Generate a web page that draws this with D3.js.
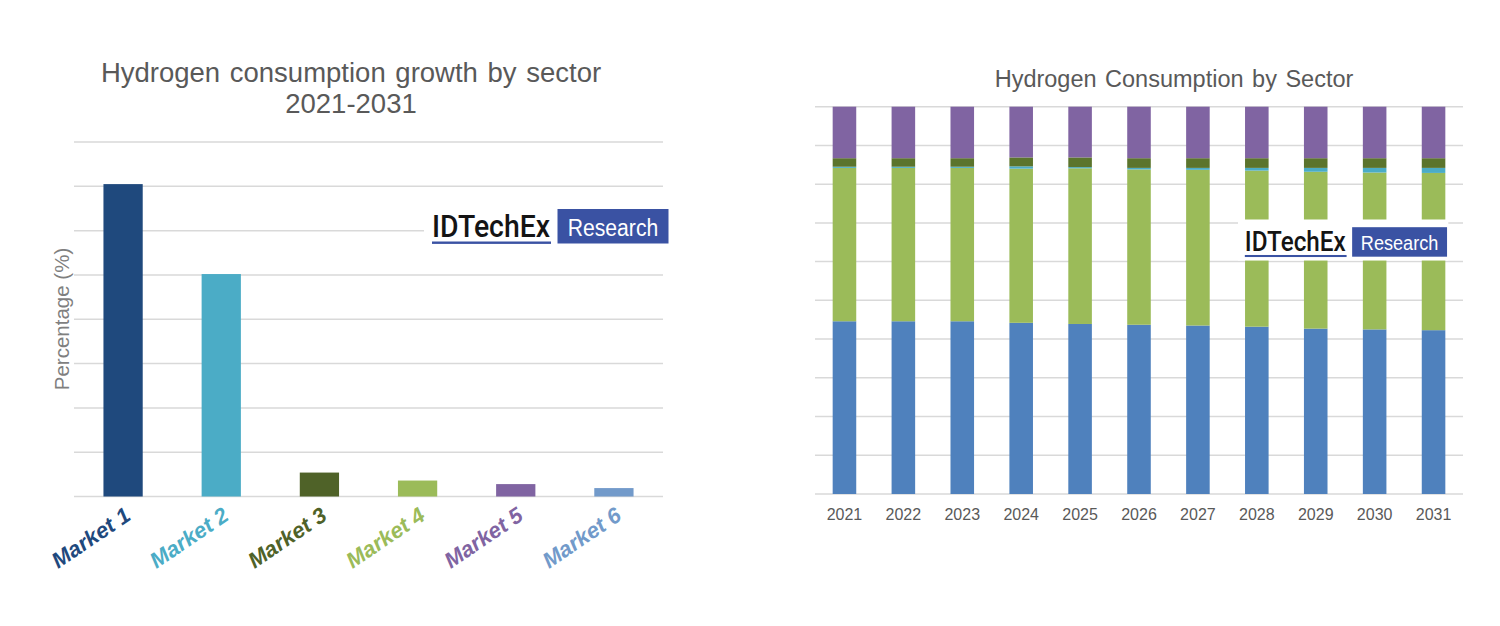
<!DOCTYPE html>
<html>
<head>
<meta charset="utf-8">
<script src="https://cdn.jsdelivr.net/npm/d3@7"></script>
<style>
  html, body { margin: 0; padding: 0; background: #fff; }
  svg { display: block; font-family: "Liberation Sans", Arial, sans-serif; }
</style>
</head>
<body>
<svg id="chart" width="1500" height="626"></svg>
<script>
// ---------- Data ----------
const markets = ["Market 1", "Market 2", "Market 3", "Market 4", "Market 5", "Market 6"];
const growthPct = [70.5, 50.2, 5.4, 3.6, 2.8, 1.9];
const leftTicks = [0, 10, 20, 30, 40, 50, 60, 70, 80];

const years = ["2021", "2022", "2023", "2024", "2025", "2026", "2027", "2028", "2029", "2030", "2031"];
const seriesKeys = ["s1", "s2", "s3", "s4", "s5"];
const s1 = [44.6, 44.6, 44.6, 44.2, 43.9, 43.7, 43.5, 43.2, 42.7, 42.5, 42.3];
const s2 = [39.6, 39.6, 39.6, 39.8, 40.2, 40.1, 40.2, 40.3, 40.5, 40.5, 40.6];
const s3 = [0.3, 0.3, 0.3, 0.6, 0.3, 0.4, 0.5, 0.7, 1.0, 1.2, 1.3];
const s4 = [2.2, 2.2, 2.2, 2.3, 2.5, 2.5, 2.5, 2.5, 2.5, 2.5, 2.5];
const s5 = [13.3, 13.3, 13.3, 13.1, 13.1, 13.3, 13.3, 13.3, 13.3, 13.3, 13.3];
const rightTicks = [0, 10, 20, 30, 40, 50, 60, 70, 80, 90, 100];

// ---------- Styles ----------
const marketColors = ["#1f497d", "#4bacc6", "#4f6228", "#9bbb59", "#8064a2", "#729aca"];
const seriesColors = ["#4f81bd", "#9bbb59", "#4bacc6", "#5b742c", "#8064a2"];
const gridColor = "#d9d9d9";
const textGray = "#595959";
const logoBlue = "#3a52a3";

const svg = d3.select("#chart");

// ---------- Left chart ----------
const L = { x0: 74, x1: 663, y0: 496.5, y1: 142 };
const xL = d3.scaleBand().domain(markets).range([L.x0, L.x1]).paddingInner(0.6).paddingOuter(0.3);
const yL = d3.scaleLinear().domain([0, 80]).range([L.y0, L.y1]);

const gL = svg.append("g");
gL.append("g").selectAll("line").data(leftTicks).join("line")
  .attr("x1", L.x0).attr("x2", L.x1)
  .attr("y1", d => yL(d)).attr("y2", d => yL(d))
  .attr("stroke", gridColor).attr("stroke-width", 1.5);

function logo(g, x, y, s) {
  // x,y = top-left of white background; s = scale factor
  g.append("rect").attr("x", x).attr("y", y).attr("width", 246 * s).attr("height", 48 * s).attr("fill", "#fff");
  g.append("text").attr("x", x + 8 * s).attr("y", y + 36.5 * s)
    .attr("font-size", 31.5 * s).attr("fill", "#141414")
    .attr("font-family", "Roboto, 'Liberation Sans', sans-serif").attr("font-weight", 500)
    .attr("textLength", 118 * s).attr("lengthAdjust", "spacingAndGlyphs")
    .text("IDTechEx");
  g.append("rect").attr("x", x + 8 * s).attr("y", y + 41.5 * s).attr("width", 119 * s).attr("height", 2.4 * s).attr("fill", logoBlue);
  g.append("rect").attr("x", x + 133.5 * s).attr("y", y + 9 * s).attr("width", 111 * s).attr("height", 34.5 * s).attr("fill", logoBlue);
  g.append("text").attr("x", x + 143.7 * s).attr("y", y + 36 * s)
    .attr("font-size", 23.3 * s).attr("fill", "#fff")
    .attr("textLength", 90.6 * s).attr("lengthAdjust", "spacingAndGlyphs")
    .text("Research");
}

gL.append("g").selectAll("rect").data(markets).join("rect")
  .attr("x", d => xL(d)).attr("width", xL.bandwidth())
  .attr("y", (d, i) => yL(growthPct[i])).attr("height", (d, i) => yL(0) - yL(growthPct[i]))
  .attr("fill", (d, i) => marketColors[i]);

logo(gL.append("g"), 424, 200, 1);

gL.append("g").selectAll("text").data(markets).join("text")
  .attr("transform", d => `translate(${xL(d) + xL.bandwidth() / 2 + 9},519) rotate(-34)`)
  .attr("text-anchor", "end")
  .attr("font-size", 22).attr("font-weight", "bold").attr("font-style", "italic")
  .attr("fill", (d, i) => marketColors[i])
  .text(d => d);

gL.append("text")
  .attr("transform", `translate(69,${(245 + 393) / 2}) rotate(-90)`)
  .attr("text-anchor", "middle").attr("font-size", 20.5).attr("fill", "#7f7f7f")
  .text("Percentage (%)");

gL.append("text").attr("x", 351).attr("y", 81.5).attr("text-anchor", "middle")
  .attr("font-size", 27.5).attr("fill", textGray).attr("word-spacing", 2)
  .text("Hydrogen consumption growth by sector");
gL.append("text").attr("x", 351).attr("y", 112.5).attr("text-anchor", "middle")
  .attr("font-size", 27.5).attr("fill", textGray)
  .text("2021-2031");

// ---------- Right chart ----------
const R = { x0: 815, x1: 1463, y0: 494, y1: 106.7 };
const xR = d3.scaleBand().domain(years).range([R.x0, R.x1]).paddingInner(0.6).paddingOuter(0.3);
const yR = d3.scaleLinear().domain([0, 100]).range([R.y0, R.y1]);

const gR = svg.append("g");
gR.append("g").selectAll("line").data(rightTicks).join("line")
  .attr("x1", R.x0).attr("x2", R.x1)
  .attr("y1", d => yR(d)).attr("y2", d => yR(d))
  .attr("stroke", gridColor).attr("stroke-width", 1.5);

const seriesValues = [s1, s2, s3, s4, s5];
const table = years.map((y, i) => {
  const row = { year: y };
  seriesKeys.forEach((k, j) => row[k] = seriesValues[j][i]);
  return row;
});
const stacked = d3.stack().keys(seriesKeys)(table);

gR.append("g").selectAll("g").data(stacked).join("g")
  .attr("fill", (d, i) => seriesColors[i])
  .selectAll("rect").data(d => d).join("rect")
  .attr("x", d => xR(d.data.year)).attr("width", xR.bandwidth())
  .attr("y", d => yR(d[1])).attr("height", d => yR(d[0]) - yR(d[1]));

const axR = gR.append("g").attr("transform", `translate(0,${R.y0})`)
  .call(d3.axisBottom(xR).tickSize(0).tickPadding(0));
axR.select(".domain").remove();
axR.selectAll("text").attr("y", 26).attr("dy", 0)
  .attr("font-size", 16).attr("fill", textGray)
  .attr("font-family", "\"Liberation Sans\", Arial, sans-serif");

logo(gR.append("g"), 1238, 219.5, 0.855);

gR.append("text").attr("x", 1174).attr("y", 86.7).attr("text-anchor", "middle")
  .attr("font-size", 23.5).attr("fill", textGray).attr("word-spacing", 2)
  .text("Hydrogen Consumption by Sector");
</script>
</body>
</html>
